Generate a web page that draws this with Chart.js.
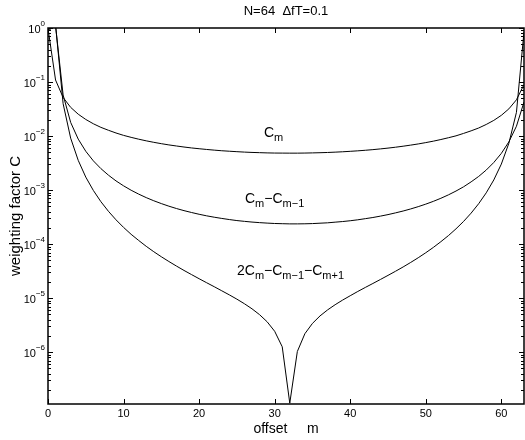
<!DOCTYPE html>
<html>
<head>
<meta charset="utf-8">
<script src="https://cdn.jsdelivr.net/npm/chart.js@4.4.1/dist/chart.umd.min.js"></script>
<style>
  html, body { margin: 0; padding: 0; background: #fff; }
  canvas { display: block; }
</style>
</head>
<body>
<canvas id="weights" width="525" height="440"></canvas>
<script>
// offset m = 0..63
const offsets = [
   0,  1,  2,  3,  4,  5,  6,  7,  8,  9, 10, 11, 12, 13, 14, 15,
  16, 17, 18, 19, 20, 21, 22, 23, 24, 25, 26, 27, 28, 29, 30, 31,
  32, 33, 34, 35, 36, 37, 38, 39, 40, 41, 42, 43, 44, 45, 46, 47,
  48, 49, 50, 51, 52, 53, 54, 55, 56, 57, 58, 59, 60, 61, 62, 63
];

// C_m
const cm = [
  0.984, 0.109, 0.0518, 0.0340, 0.0254, 0.0203, 0.0169, 0.0145,
  0.0128, 0.0114, 0.0103, 0.00947, 0.00876, 0.00816, 0.00766, 0.00723,
  0.00686, 0.00655, 0.00627, 0.00603, 0.00583, 0.00565, 0.00549, 0.00535,
  0.00524, 0.00514, 0.00505, 0.00498, 0.00493, 0.00488, 0.00485, 0.00484,
  0.00483, 0.00483, 0.00485, 0.00488, 0.00492, 0.00497, 0.00504, 0.00512,
  0.00522, 0.00533, 0.00546, 0.00561, 0.00579, 0.00599, 0.00622, 0.00649,
  0.00680, 0.00715, 0.00757, 0.00805, 0.00863, 0.00932, 0.0101, 0.0112,
  0.0125, 0.0141, 0.0164, 0.0195, 0.0242, 0.0319, 0.0469, 0.0895
];

// C_m - C_(m-1)
const cmDiff1 = [
  0.894, 1.09, 0.0576, 0.0179, 0.00878, 0.00523, 0.00348, 0.00250,
  0.00189, 0.00148, 0.00120, 0.000995, 0.000843, 0.000726, 0.000635, 0.000563,
  0.000504, 0.000456, 0.000417, 0.000385, 0.000357, 0.000334, 0.000315, 0.000299,
  0.000285, 0.000273, 0.000264, 0.000256, 0.000250, 0.000245, 0.000241, 0.000239,
  0.000237, 0.000237, 0.000238, 0.000240, 0.000244, 0.000248, 0.000255, 0.000262,
  0.000271, 0.000282, 0.000296, 0.000311, 0.000330, 0.000352, 0.000379, 0.000410,
  0.000448, 0.000494, 0.000550, 0.000619, 0.000706, 0.000817, 0.000961, 0.00115,
  0.00142, 0.00179, 0.00235, 0.00324, 0.00478, 0.00782, 0.0152, 0.0427
];

// 2C_m - C_(m-1) - C_(m+1)
const cmDiff2 = [
  1.99, 1.15, 0.0397, 0.00915, 0.00355, 0.00174, 0.000986, 0.000611,
  0.000405, 0.000282, 0.000204, 0.000152, 0.000117, 9.11e-5, 7.24e-5, 5.84e-5,
  4.77e-5, 3.93e-5, 3.26e-5, 2.73e-5, 2.29e-5, 1.93e-5, 1.63e-5, 1.37e-5,
  1.15e-5, 9.59e-6, 7.88e-6, 6.35e-6, 4.95e-6, 3.66e-6, 2.44e-6, 1.26e-6,
  1.14e-7, 1.03e-6, 2.20e-6, 3.41e-6, 4.69e-6, 6.06e-6, 7.56e-6, 9.23e-6,
  1.11e-5, 1.33e-5, 1.58e-5, 1.87e-5, 2.22e-5, 2.64e-5, 3.15e-5, 3.78e-5,
  4.58e-5, 5.60e-5, 6.93e-5, 8.69e-5, 0.000111, 0.000144, 0.000192, 0.000263,
  0.000375, 0.000560, 0.000890, 0.00154, 0.00303, 0.00737, 0.0275, 0.852
];

const xTicks = [0, 10, 20, 30, 40, 50, 60];
const yExponents = [0, -1, -2, -3, -4, -5, -6];
const titleText = 'N=64  \u0394fT=0.1';
const xLabel = 'offset     m';
const yLabel = 'weighting factor C';

const FONT = '"Liberation Sans", Arial, Helvetica, sans-serif';

function toPoints(vals) {
  return offsets.map((m, i) => ({ x: m, y: vals[i] }));
}

// text with subscripts: parts = [[text, isSub], ...]
function drawParts(ctx, parts, x, y, size, subSize) {
  ctx.textAlign = 'left';
  ctx.textBaseline = 'alphabetic';
  let cx = x;
  for (const [txt, sub] of parts) {
    ctx.font = (sub ? subSize : size) + 'px ' + FONT;
    ctx.fillText(txt, cx, sub ? y + 4 : y);
    cx += ctx.measureText(txt).width;
  }
}

const axesPlugin = {
  id: 'matlabAxes',
  afterDatasetsDraw(chart) {
    const { ctx, chartArea: a, scales: { x, y } } = chart;
    ctx.save();
    ctx.strokeStyle = '#000';
    ctx.fillStyle = '#000';

    // frame
    ctx.lineWidth = 1.5;
    ctx.strokeRect(a.left, a.top, a.right - a.left, a.bottom - a.top);

    // x ticks (inward, top and bottom)
    ctx.lineWidth = 1;
    ctx.beginPath();
    for (const v of xTicks) {
      const px = Math.round(x.getPixelForValue(v)) + 0.5;
      ctx.moveTo(px, a.bottom); ctx.lineTo(px, a.bottom - 5);
      ctx.moveTo(px, a.top); ctx.lineTo(px, a.top + 5);
    }
    // y ticks, decades and minor
    for (let e = 0; e >= -7; e--) {
      for (let k = 1; k <= 9; k++) {
        const v = k * Math.pow(10, e);
        if (v < y.min || v > y.max) continue;
        const py = Math.round(y.getPixelForValue(v)) + 0.5;
        const len = k === 1 ? 5 : 3;
        ctx.moveTo(a.left, py); ctx.lineTo(a.left + len, py);
        ctx.moveTo(a.right, py); ctx.lineTo(a.right - len, py);
      }
    }
    ctx.stroke();

    // x tick labels
    ctx.font = '11px ' + FONT;
    ctx.textAlign = 'center';
    ctx.textBaseline = 'middle';
    for (const v of xTicks) {
      ctx.fillText(String(v), x.getPixelForValue(v), a.bottom + 10);
    }

    // y tick labels 10^e
    for (const e of yExponents) {
      const py = y.getPixelForValue(Math.pow(10, e));
      const exp = e === 0 ? '0' : '\u2212' + (-e);
      ctx.font = '8px ' + FONT;
      const ew = ctx.measureText(exp).width;
      ctx.textAlign = 'right';
      ctx.textBaseline = 'alphabetic';
      ctx.fillText(exp, a.left - 3, py - 2);
      ctx.font = '11px ' + FONT;
      ctx.fillText('10', a.left - 3 - ew, py + 5);
    }

    // title and axis labels
    ctx.textAlign = 'center';
    ctx.textBaseline = 'middle';
    ctx.font = '13px ' + FONT;
    ctx.fillText(titleText, (a.left + a.right) / 2, 11);
    ctx.font = '14px ' + FONT;
    ctx.fillText(xLabel, (a.left + a.right) / 2, a.bottom + 25);
    ctx.save();
    ctx.translate(16, (a.top + a.bottom) / 2);
    ctx.rotate(-Math.PI / 2);
    ctx.font = '15px ' + FONT;
    ctx.fillText(yLabel, 0, 0);
    ctx.restore();

    // curve labels
    drawParts(ctx, [['C', 0], ['m', 1]], 264, 137, 14, 11);
    drawParts(ctx, [['C', 0], ['m', 1], ['\u2212C', 0], ['m\u22121', 1]], 245, 203, 14, 11);
    drawParts(ctx, [['2C', 0], ['m', 1], ['\u2212C', 0], ['m\u22121', 1], ['\u2212C', 0], ['m+1', 1]], 237, 275, 14, 11);

    ctx.restore();
  }
};

const lineStyle = {
  borderColor: '#000',
  backgroundColor: '#000',
  borderWidth: 1,
  pointRadius: 0,
  tension: 0,
  fill: false
};

new Chart(document.getElementById('weights'), {
  type: 'line',
  data: {
    datasets: [
      { label: 'C_m', data: toPoints(cm), ...lineStyle },
      { label: 'C_m - C_m-1', data: toPoints(cmDiff1), ...lineStyle },
      { label: '2C_m - C_m-1 - C_m+1', data: toPoints(cmDiff2), ...lineStyle }
    ]
  },
  options: {
    responsive: false,
    animation: false,
    maintainAspectRatio: false,
    layout: { padding: { left: 48, top: 28, right: 1, bottom: 36 } },
    plugins: { legend: { display: false }, tooltip: { enabled: false } },
    scales: {
      x: { type: 'linear', min: 0, max: 63, display: false },
      y: { type: 'logarithmic', min: 1.1e-7, max: 1, display: false }
    }
  },
  plugins: [axesPlugin]
});
</script>
</body>
</html>
